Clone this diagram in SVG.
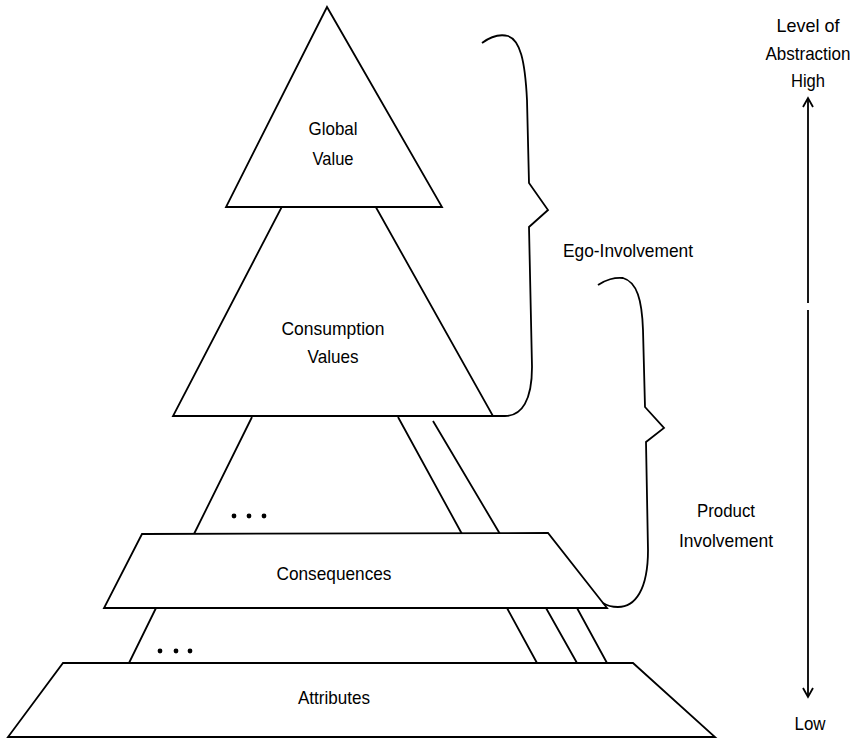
<svg xmlns="http://www.w3.org/2000/svg" width="859" height="738" viewBox="0 0 859 738">
<style>
.ln{fill:none;stroke:#000;stroke-width:1.8;stroke-linejoin:miter}
.sh{fill:#fff;stroke:#000;stroke-width:1.8}
.t{font-family:"Liberation Sans",Arial,sans-serif;font-size:19px;fill:#000;text-anchor:middle}
</style>
<rect width="859" height="738" fill="#fff"/>
<g id="connectors">
  <path class="ln" d="M398,417 L462,534 M433,421 L500,534 M252,417 L194,534"/>
  <path class="ln" d="M156,608 L129,663 M507,608 L537,663 M546,608 L577,663 M577,608 L607,663"/>
</g>
<g id="consumption-values">
  <polygon class="sh" points="327,120 173,416 493,416"/>
  <text class="t" x="333" y="335" textLength="103" lengthAdjust="spacingAndGlyphs">Consumption</text>
  <text class="t" x="333" y="363" textLength="51" lengthAdjust="spacingAndGlyphs">Values</text>
</g>
<g id="global-value">
  <polygon class="sh" points="327,7 226,207 442,207"/>
  <text class="t" x="333" y="135" textLength="49" lengthAdjust="spacingAndGlyphs">Global</text>
  <text class="t" x="333" y="165" textLength="41" lengthAdjust="spacingAndGlyphs">Value</text>
</g>
<g id="dots-upper">
  <circle cx="234" cy="516" r="2.4"/><circle cx="249" cy="516" r="2.4"/><circle cx="264" cy="516" r="2.4"/>
</g>
<g id="consequences">
  <polygon class="sh" points="142,534 548,533 607,608 104,608"/>
  <text class="t" x="334" y="580" textLength="115" lengthAdjust="spacingAndGlyphs">Consequences</text>
</g>
<g id="dots-lower">
  <circle cx="160" cy="651" r="2.4"/><circle cx="176" cy="651" r="2.4"/><circle cx="190" cy="651" r="2.4"/>
</g>
<g id="attributes">
  <polygon class="sh" points="63,663 633,663 715,737 8,737"/>
  <text class="t" x="334" y="704" textLength="72" lengthAdjust="spacingAndGlyphs">Attributes</text>
</g>
<g id="ego-involvement">
  <path class="ln" d="M482,43 C490,37 500,34 508,36 C520,40 525,60 527,100 L529,183 L548,210 L529,227 L532,367 C532,400 522,416 505,416 L493,416"/>
  <text class="t" x="628" y="257" textLength="130" lengthAdjust="spacingAndGlyphs">Ego-Involvement</text>
</g>
<g id="product-involvement">
  <path class="ln" d="M598,285 C605,280 615,277 623,278 C637,282 642,300 643,330 L645,407 L664,428 L646,442 L648,550 C648,590 635,607 618,607 C612,607 606,605 603,603"/>
  <text class="t" x="726" y="517" textLength="58" lengthAdjust="spacingAndGlyphs">Product</text>
  <text class="t" x="726" y="547" textLength="94" lengthAdjust="spacingAndGlyphs">Involvement</text>
</g>
<g id="abstraction-axis">
  <path class="ln" d="M808,98 L808,303 M808,310 L808,697"/>
  <path class="ln" d="M803,107 L808,98 L813,107 M803,688 L808,697 L813,688"/>
  <text class="t" x="808" y="32" textLength="63" lengthAdjust="spacingAndGlyphs">Level of</text>
  <text class="t" x="808" y="60" textLength="85" lengthAdjust="spacingAndGlyphs">Abstraction</text>
  <text class="t" x="808" y="87" textLength="34" lengthAdjust="spacingAndGlyphs">High</text>
  <text class="t" x="810" y="730" textLength="31" lengthAdjust="spacingAndGlyphs">Low</text>
</g>
</svg>
